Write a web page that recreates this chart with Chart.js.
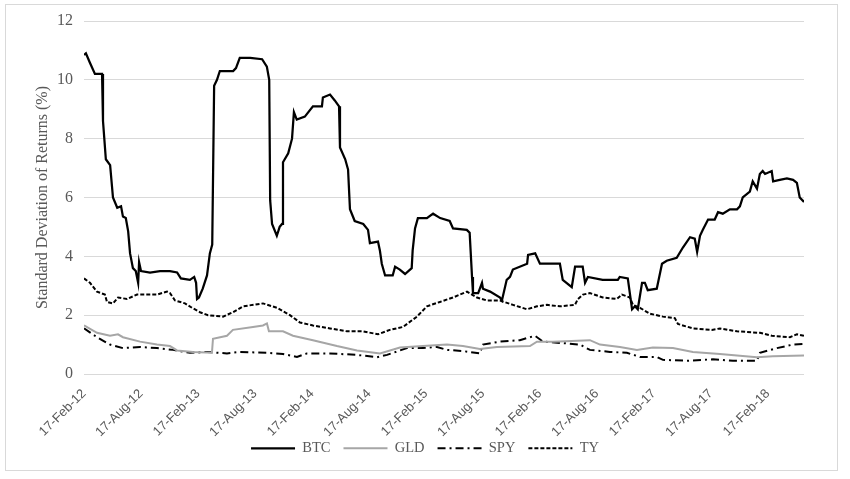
<!DOCTYPE html>
<html>
<head>
<meta charset="utf-8">
<script src="https://cdn.jsdelivr.net/npm/chart.js@4.4.0/dist/chart.umd.min.js"></script>
<style>
    html, body { margin: 0; padding: 0; background: #fff; }
    #frame { position: absolute; left: 5px; top: 4px; width: 831px; height: 465px; border: 1px solid #d9d9d9; }
    #chart { position: absolute; left: 0; top: 0; }
</style>
</head>
<body>
<div id="frame"></div>
<canvas id="chart" width="850" height="479"></canvas>
<script>
    // x = months since 17-Feb-12, y = rolling std dev of returns (%)
    var tickLabels = ["17-Feb-12", "17-Aug-12", "17-Feb-13", "17-Aug-13", "17-Feb-14", "17-Aug-14", "17-Feb-15",
        "17-Aug-15", "17-Feb-16", "17-Aug-16", "17-Feb-17", "17-Aug-17", "17-Feb-18"];
    var seriesNames = ["BTC", "GLD", "SPY", "TY"];

    var btc = [[0, 10.85], [0.2, 10.9], [0.6, 10.6], [1.15, 10.2], [1.9, 10.2], [2.0, 8.6], [2.3, 7.3], [2.75, 7.1],
        [3.05, 6.0], [3.5, 5.65], [3.9, 5.7], [4.1, 5.35], [4.4, 5.3], [4.65, 4.85], [4.85, 4.1], [5.15, 3.6],
        [5.45, 3.5], [5.7, 3.1], [5.8, 3.8], [6.0, 3.5], [6.95, 3.45], [8.0, 3.5], [9.05, 3.5], [9.8, 3.45],
        [10.2, 3.25], [11.15, 3.2], [11.6, 3.3], [11.8, 3.1], [11.9, 2.55], [12.1, 2.6], [12.5, 2.9], [12.95, 3.35],
        [13.25, 4.1], [13.5, 4.4], [13.7, 9.8], [14.0, 10.0], [14.3, 10.3], [15.7, 10.3], [16.0, 10.4],
        [16.4, 10.75], [17.5, 10.75], [18.75, 10.7], [19.25, 10.45], [19.5, 10.0], [19.6, 5.9], [19.8, 5.1],
        [20.3, 4.7], [20.6, 5.0], [20.85, 5.1], [20.95, 7.2], [21.5, 7.5], [21.9, 8.0], [22.1, 8.9], [22.4, 8.65],
        [23.25, 8.75], [24.1, 9.1], [25.05, 9.1], [25.15, 9.4], [25.9, 9.5], [26.4, 9.3], [26.85, 9.1],
        [26.95, 7.7], [27.5, 7.3], [27.8, 6.95], [28.0, 5.6], [28.5, 5.2], [29.4, 5.1], [29.9, 4.9], [30.1, 4.45],
        [30.95, 4.5], [31.15, 4.2], [31.35, 3.75], [31.7, 3.35], [32.5, 3.35], [32.75, 3.65], [33.25, 3.55],
        [33.8, 3.4], [34.5, 3.6], [34.6, 4.2], [34.85, 4.95], [35.15, 5.3], [36.1, 5.3], [36.75, 5.45],
        [37.5, 5.3], [38.5, 5.2], [38.85, 4.95], [40.3, 4.9], [40.6, 4.8], [40.85, 3.3], [40.95, 2.75],
        [41.5, 2.75], [41.9, 3.1], [42.0, 2.9], [42.75, 2.8], [43.8, 2.6], [44.0, 2.5], [44.5, 3.2], [44.85, 3.3],
        [45.15, 3.55], [46.65, 3.75], [46.75, 4.05], [47.5, 4.1], [48.0, 3.75], [50.1, 3.75], [50.4, 3.2],
        [51.35, 2.95], [51.7, 3.65], [52.5, 3.65], [52.75, 3.1], [53.05, 3.3], [54.6, 3.2], [56.2, 3.2],
        [56.4, 3.3], [57.25, 3.25], [57.7, 2.2], [58.0, 2.3], [58.3, 2.2], [58.75, 3.1], [59.05, 3.1],
        [59.35, 2.85], [60.3, 2.9], [60.85, 3.75], [61.35, 3.85], [62.4, 3.95], [63.05, 4.3], [63.8, 4.65],
        [64.3, 4.6], [64.55, 4.15], [64.85, 4.7], [65.15, 4.9], [65.7, 5.25], [66.4, 5.25], [66.75, 5.5],
        [67.25, 5.45], [68.0, 5.6], [68.75, 5.6], [69.05, 5.7], [69.35, 6.0], [70.1, 6.2], [70.4, 6.55],
        [70.85, 6.3], [71.15, 6.8], [71.45, 6.9], [71.7, 6.8], [72.4, 6.9], [72.55, 6.55], [73.25, 6.6],
        [74.0, 6.65], [74.65, 6.6], [75.05, 6.5], [75.35, 6.0], [75.8, 5.85]];

    var gld = [[0, 1.65], [1.37, 1.4], [2.74, 1.3], [3.58, 1.35], [4.1, 1.25], [5.9, 1.1], [7.68, 1.0], [9.05, 0.95],
        [9.79, 0.8], [11.47, 0.75], [13.47, 0.72], [13.58, 1.2], [15.05, 1.3], [15.68, 1.5], [17.79, 1.6],
        [18.84, 1.65], [19.26, 1.72], [19.47, 1.45], [20.95, 1.45], [22.0, 1.3], [24.1, 1.15], [26.63, 0.95],
        [28.74, 0.8], [31.16, 0.7], [33.26, 0.9], [35.68, 0.95], [38.21, 1.0], [39.89, 0.95], [41.68, 0.85],
        [43.47, 0.92], [46.95, 0.95], [47.68, 1.1], [49.37, 1.1], [53.26, 1.15], [54.32, 1.0], [56.42, 0.92],
        [58.21, 0.82], [59.89, 0.9], [62.0, 0.88], [64.1, 0.75], [66.95, 0.68], [69.05, 0.62], [70.84, 0.57],
        [72.53, 0.6], [75.8, 0.63]];

    var spy = [[0, 1.55], [1.37, 1.25], [2.74, 1.0], [4.1, 0.88], [5.9, 0.92], [7.68, 0.88], [9.37, 0.82],
        [11.16, 0.72], [12.95, 0.75], [15.05, 0.7], [16.42, 0.75], [19.26, 0.72], [20.95, 0.68], [22.42, 0.58],
        [23.47, 0.7], [25.9, 0.7], [28.74, 0.65], [30.84, 0.57], [31.9, 0.65], [34.0, 0.88], [35.68, 0.88],
        [37.16, 0.92], [38.21, 0.82], [39.89, 0.78], [41.68, 0.7], [42.0, 1.0], [43.79, 1.1], [45.89, 1.15],
        [47.47, 1.3], [48.32, 1.1], [50.42, 1.05], [52.21, 1.0], [53.26, 0.82], [55.37, 0.75], [57.16, 0.72],
        [58.53, 0.58], [60.32, 0.58], [60.95, 0.48], [63.47, 0.45], [66.21, 0.5], [68.32, 0.45], [70.84, 0.45],
        [71.16, 0.72], [72.95, 0.88], [74.63, 1.0], [75.8, 1.02]];

    var ty = [[0, 3.25], [0.63, 3.1], [1.37, 2.8], [2.2, 2.7], [2.42, 2.45], [3.05, 2.4], [3.58, 2.6], [4.53, 2.55],
        [5.58, 2.7], [6.63, 2.7], [7.68, 2.7], [8.74, 2.8], [9.05, 2.75], [9.58, 2.5], [10.63, 2.4], [11.37, 2.25],
        [12.21, 2.1], [13.05, 2.0], [14.63, 1.95], [15.68, 2.1], [16.74, 2.3], [18.84, 2.4], [20.32, 2.25],
        [21.68, 2.0], [22.74, 1.75], [24.1, 1.65], [25.9, 1.55], [27.68, 1.45], [29.37, 1.45], [30.95, 1.35],
        [32.2, 1.5], [33.58, 1.6], [35.05, 1.95], [36.1, 2.3], [37.47, 2.45], [38.84, 2.6], [40.32, 2.8],
        [41.37, 2.6], [42.42, 2.5], [43.79, 2.5], [45.16, 2.35], [46.63, 2.2], [47.68, 2.3], [48.74, 2.35],
        [50.1, 2.3], [51.68, 2.35], [52.0, 2.55], [52.53, 2.7], [53.26, 2.75], [54.63, 2.6], [56.1, 2.55],
        [56.63, 2.7], [57.47, 2.6], [57.79, 2.35], [58.53, 2.25], [59.58, 2.05], [60.95, 1.95], [62.2, 1.9],
        [62.53, 1.7], [64.1, 1.55], [66.1, 1.5], [66.95, 1.55], [68.74, 1.45], [71.16, 1.4], [72.42, 1.3],
        [74.32, 1.25], [75.05, 1.35], [75.8, 1.3]];

    var textColor = "#595959";
    var serif = "'Liberation Serif', 'Times New Roman', serif";

    function toPoints(list) {
        return list.map(function (p) {
            return {x: p[0], y: p[1]};
        });
    }

    // tick labels are clipped to the x scale box, so that box is tall and the legend is pulled up a bit
    var legendLift = {
        id: 'legendLift',
        afterLayout: function (chart) {
            if (chart.legend) {
                chart.legend.top -= 9;
                chart.legend.bottom -= 9;
            }
        }
    };

    var chartData = {
        datasets: [
            {label: seriesNames[0], data: toPoints(btc), borderColor: "#000000", borderWidth: 2.25},
            {label: seriesNames[1], data: toPoints(gld), borderColor: "#a6a6a6", borderWidth: 2},
            {label: seriesNames[2], data: toPoints(spy), borderColor: "#000000", borderWidth: 2, borderDash: [8, 4, 2, 4]},
            {label: seriesNames[3], data: toPoints(ty), borderColor: "#000000", borderWidth: 2, borderDash: [4, 2]}
        ]
    };

    var chartConfig = {
        type: 'line',
        data: chartData,
        plugins: [legendLift],
        options: {
            responsive: false,
            animation: false,
            layout: {padding: {left: 0, right: 0, top: 21, bottom: 4.5}},
            elements: {
                point: {radius: 0},
                line: {tension: 0, fill: false}
            },
            scales: {
                x: {
                    type: 'linear',
                    min: 0,
                    max: 75.8,
                    grid: {display: false},
                    border: {display: false},
                    afterBuildTicks: function (scale) {
                        scale.ticks = tickLabels.map(function (t, i) {
                            return {value: i * 6};
                        });
                    },
                    afterFit: function (scale) {
                        scale.height = 63;
                    },
                    ticks: {
                        autoSkip: false,
                        maxRotation: 45,
                        minRotation: 45,
                        padding: 7,
                        color: textColor,
                        font: {family: "'Liberation Sans', Arial, sans-serif", size: 13, lineHeight: 0.55},
                        callback: function (value) {
                            return tickLabels[Math.round(value / 6)];
                        }
                    }
                },
                y: {
                    min: 0,
                    max: 12,
                    grid: {color: "#d9d9d9", lineWidth: 1, drawTicks: false},
                    border: {display: false},
                    afterFit: function (scale) {
                        scale.width = 84;
                    },
                    ticks: {
                        stepSize: 2,
                        padding: 11,
                        color: textColor,
                        font: {family: serif, size: 16}
                    },
                    title: {
                        display: true,
                        text: "Standard Deviation of Returns (%)",
                        color: textColor,
                        font: {family: serif, size: 16},
                        padding: {top: 33, bottom: 0}
                    }
                },
                // empty right margin so the plot ends where the reference does
                rightGap: {
                    position: 'right',
                    grid: {display: false},
                    border: {display: false},
                    ticks: {display: false},
                    afterFit: function (scale) {
                        scale.width = 46;
                    }
                }
            },
            plugins: {
                tooltip: {enabled: false},
                legend: {
                    position: 'bottom',
                    labels: {
                        usePointStyle: true,
                        pointStyleWidth: 44,
                        padding: 13,
                        color: textColor,
                        font: {family: serif, size: 14.5},
                        generateLabels: function (chart) {
                            return chart.data.datasets.map(function (ds, i) {
                                return {
                                    text: ds.label,
                                    fillStyle: ds.borderColor,
                                    strokeStyle: ds.borderColor,
                                    lineWidth: ds.borderWidth,
                                    lineDash: ds.borderDash || [],
                                    pointStyle: 'line',
                                    fontColor: textColor,
                                    hidden: false,
                                    datasetIndex: i
                                };
                            });
                        }
                    }
                }
            }
        }
    };

    new Chart(document.getElementById("chart"), chartConfig);
</script>
</body>
</html>
